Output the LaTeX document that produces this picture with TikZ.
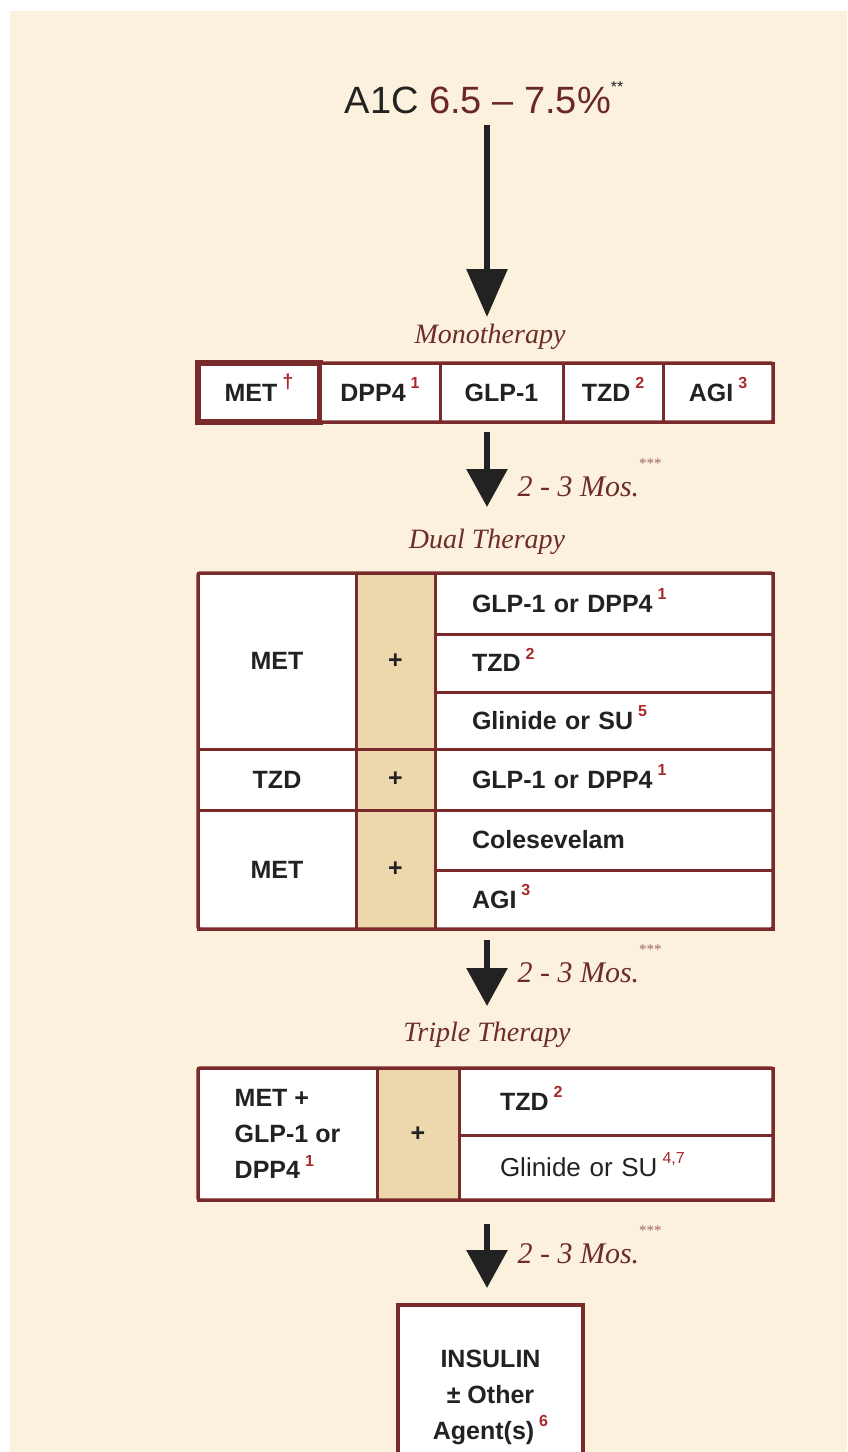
\documentclass[tikz,border=0pt]{standalone}
\usepackage{fontspec}
\setmainfont{Liberation Sans}
\newfontfamily\labelfont{Liberation Serif}
\usetikzlibrary{arrows.meta, positioning}

\definecolor{parch}{HTML}{FBF1DD}
\definecolor{brd}{HTML}{7A2A2A}
\definecolor{tan}{HTML}{EDD8AE}
\definecolor{supred}{HTML}{A8282C}
\definecolor{numred}{HTML}{6B2626}
\definecolor{labred}{HTML}{6E2C28}
\definecolor{starred}{HTML}{A86868}
\definecolor{ink}{HTML}{222222}

\newcommand{\nt}[1]{\hspace{5pt}\smash{\raisebox{0.5em}{\fontsize{16}{16}\selectfont\color{supred}#1}}}
\newcommand{\mosstars}{\smash{\raisebox{0.95em}{\upshape\fontsize{15}{15}\selectfont\color{starred}***}}}

\begin{document}
\begin{tikzpicture}[x=1pt, y=-1pt,
    cell/.style={draw=brd, line width=3pt, fill=white, inner sep=0pt, text=ink,
        font=\fontsize{25}{36}\selectfont\bfseries},
    pluscell/.style={cell, fill=tan},
    optcell/.style={cell, minimum width=338pt, text width=264pt, inner xsep=37pt, align=left},
    frame/.style={draw=brd, line width=3.5pt, rounded corners=2pt},
    therapy/.style={font=\labelfont\itshape\fontsize{28}{30}\selectfont, text=labred},
    mos/.style={therapy, anchor=west, font=\labelfont\itshape\fontsize{30}{32}\selectfont},
    bigarrow/.style={draw=ink, line width=6pt, -{Triangle[length=38pt, width=40pt]}},
]
    \useasboundingbox (0,0) rectangle (847,1452);
    \clip (0,0) rectangle (847,1452);
    \fill[white] (0,0) rectangle (847,1452);
    \fill[parch] (10,11) rectangle (847,1452);

    % Title
    \node[font=\fontsize{38}{40}\selectfont, text=ink] (title) at (484,100)
        {A1C {\color{numred}6.5 -- 7.5\%}\smash{\raisebox{0.55em}{\fontsize{16}{16}\selectfont **}}};

    % Monotherapy
    \node[therapy] (monolbl) at (490,337) {Monotherapy};
    \node[cell, minimum width=122pt, minimum height=59pt, line width=6pt] (met) at (259,392.5)
        {MET\nt{\fontsize{20}{20}\selectfont\textdagger}};
    \node[cell, minimum width=120pt, minimum height=59pt] (dpp) at (380,392.5) {DPP4\nt{1}};
    \node[cell, minimum width=123pt, minimum height=59pt] (glp) at (501.5,392.5) {GLP-1};
    \node[cell, minimum width=100pt, minimum height=59pt] (tzd) at (613,392.5) {TZD\nt{2}};
    \node[cell, minimum width=110pt, minimum height=59pt] (agi) at (718,392.5) {AGI\nt{3}};
    \node[frame, minimum width=575pt, minimum height=59pt] (mono) at (485.5,392.5) {};

    % Dual therapy
    \node[therapy] (duallbl) at (487,542) {Dual Therapy};
    \node[cell, minimum width=158pt, minimum height=176pt] (dmet) at (277,661) {MET};
    \node[pluscell, minimum width=79pt, minimum height=176pt] (dplus) at (395.5,661) {+};
    \node[optcell, minimum height=61pt] (dglp) at (604,603.5) {GLP-1 or DPP4\nt{1}};
    \node[optcell, minimum height=58pt] (dtzd) at (604,663) {TZD\nt{2}};
    \node[optcell, minimum height=57pt] (dgli) at (604,720.5) {Glinide or SU\nt{5}};
    \node[cell, minimum width=158pt, minimum height=61pt] (dtzd2) at (277,779.5) {TZD};
    \node[pluscell, minimum width=79pt, minimum height=61pt] (dplus2) at (395.5,779.5) {+};
    \node[optcell, minimum height=61pt] (dglp2) at (604,779.5) {GLP-1 or DPP4\nt{1}};
    \node[cell, minimum width=158pt, minimum height=119pt] (dmet3) at (277,869.5) {MET};
    \node[pluscell, minimum width=79pt, minimum height=119pt] (dplus3) at (395.5,869.5) {+};
    \node[optcell, minimum height=60pt] (dcol) at (604,840) {Colesevelam};
    \node[optcell, minimum height=59pt] (dagi) at (604,899.5) {AGI\nt{3}};
    \node[frame, minimum width=575pt, minimum height=356pt] (dual) at (485.5,751) {};

    % Triple therapy
    \node[therapy] (triplbl) at (487,1035) {Triple Therapy};
    \node[cell, minimum width=179pt, minimum height=132pt, align=left] (tcombo) at (287.5,1134)
        {MET +\\GLP-1 or\\DPP4\nt{1}};
    \node[pluscell, minimum width=82pt, minimum height=132pt] (tplus) at (418,1134) {+};
    \node[optcell, minimum width=314pt, text width=232pt, inner xsep=41pt, minimum height=67pt] (ttzd) at (616,1101.5) {TZD\nt{2}};
    \node[optcell, minimum width=314pt, text width=232pt, inner xsep=41pt, minimum height=65pt,
        font=\fontsize{26}{36}\selectfont] (tgli) at (616,1167.5) {Glinide or SU\nt{4,7}};
    \node[frame, minimum width=575pt, minimum height=132pt] (triple) at (485.5,1134) {};

    % Insulin
    \node[cell, line width=3.5pt, minimum width=185pt, minimum height=184pt, align=center] (ins) at (490.5,1397)
        {INSULIN\\± Other\\Agent(s)\nt{6}};

    % Arrows
    \coordinate (tip1) at (487,317);
    \coordinate (tip2) at (487,507);
    \coordinate (tip3) at (487,1006);
    \coordinate (tip4) at (487,1288);
    \draw[bigarrow, -{Triangle[length=48pt, width=40pt]}, shorten <=8pt] (title.south -| tip1) -- (tip1);
    \draw[bigarrow, shorten <=8pt] (mono.south -| tip2) -- (tip2);
    \draw[bigarrow, shorten <=9pt] (dual.south -| tip3) -- (tip3);
    \draw[bigarrow, shorten <=22pt] (triple.south -| tip4) -- (tip4);

    % Interval labels
    \node[mos] (mos1) at (514,487) {2 - 3 Mos.\mosstars};
    \node[mos] (mos2) at (514,973) {2 - 3 Mos.\mosstars};
    \node[mos] (mos3) at (514,1254) {2 - 3 Mos.\mosstars};
\end{tikzpicture}
\end{document}
